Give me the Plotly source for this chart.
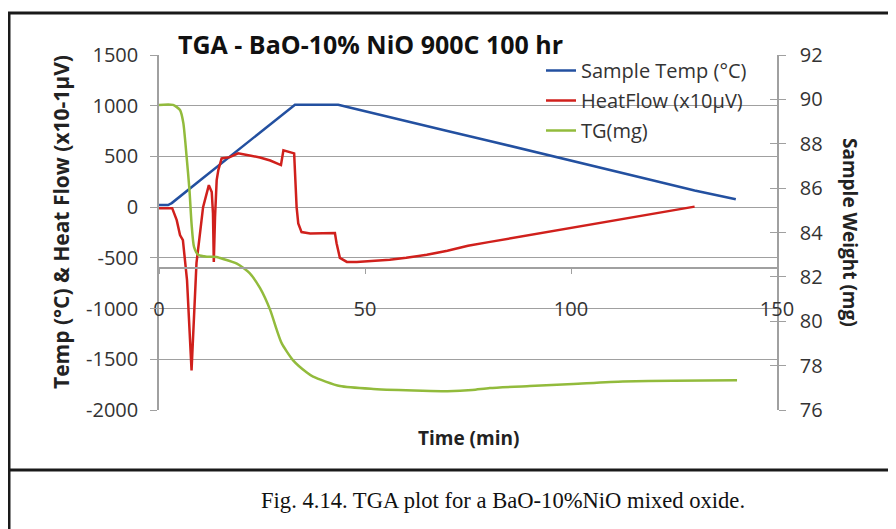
import plotly.graph_objects as go

# ---------------- data ----------------
temp_t = [0, 2.2, 3.1, 10, 33, 43.5, 46, 50, 60, 70, 80, 90, 100, 110, 120, 130, 135, 140]
temp_v = [20, 20, 40, 266, 1010, 1010, 985, 945, 848, 750, 655, 555, 458, 360, 262, 165, 118, 78]

heat_t = [0, 3.2, 4.3, 5.1, 5.8, 6.8, 7.9, 9.1, 9.8, 10.7, 12.1, 12.8, 13.1, 13.3, 13.6, 14.0,
          14.4, 15.2, 17.2, 19.2, 22, 24.5, 27, 29, 29.6, 30.2, 31.8, 32.8, 33.4, 33.8, 34.6,
          36.7, 42.7, 43.1, 43.9, 45.6, 48, 52, 56, 60, 65, 70, 75, 80, 85, 90, 95, 100, 105,
          110, 115, 120, 125, 130]
heat_v = [-10, -10, -128, -276, -325, -720, -1610, -550, -310, 0, 217, 150, -60, -540, -100, 266,
          365, 480, 493, 530, 510, 490, 460, 420, 415, 560, 545, 530, 0, -160, -246,
          -260, -256, -355, -500, -540, -540, -530, -518, -500, -470, -430, -380, -345, -310,
          -275, -240, -200, -165, -130, -95, -65, -30, 5]

tg_t = [0, 3.4, 5.1, 5.9, 6.7, 7.4, 7.9, 8.5, 9.5, 11.6, 14, 14.8, 18.9, 22, 24.5, 27, 28.6,
        29.8, 32.5, 35.8, 37.4, 43.9, 52, 64, 70, 76, 80.3, 90, 100.5, 112.6, 124.8, 140.3]
tg_v = [89.75, 89.75, 89.52, 88.94, 87.42, 85.9, 84.4, 83.35, 83.0, 82.91, 82.9, 82.85, 82.6,
        82.17, 81.5, 80.5, 79.6, 79.0, 78.25, 77.7, 77.5, 77.08, 76.95, 76.87, 76.85, 76.9,
        76.99, 77.08, 77.17, 77.28, 77.32, 77.34]

x_ticks = [0, 50, 100, 150]
left_ticks = [-2000, -1500, -1000, -500, 0, 500, 1000, 1500]
left_labels = ["-2000", "-1500", "-1000", "-500", "0", "500", "1000", "1500"]
right_ticks = [76, 78, 80, 82, 84, 86, 88, 90, 92]
left_range = [-2000, 1500]
right_range = [76, 92]

FONT = "Open Sans"
TXT = "#333333"
GRID = "#a0a0a0"

# page body has an 8px margin: shift the whole figure up/left by 8px
OFF = 8

fig = go.Figure()
fig.add_trace(go.Scatter(x=temp_t, y=temp_v, name="Sample Temp (°C)", mode="lines",
                         legendgroup="a", line=dict(color="#2350a0", width=2.5)))
fig.add_trace(go.Scatter(x=heat_t, y=heat_v, name="HeatFlow (x10µV)", mode="lines",
                         legendgroup="b", line=dict(color="#d0201c", width=2.5)))
fig.add_trace(go.Scatter(x=tg_t, y=tg_v, name="TG(mg)", mode="lines", yaxis="y2",
                         legendgroup="c",
                         line=dict(color="#92bb3c", width=2.5, shape="spline", smoothing=0.6)))
fig.add_trace(go.Scatter(x=[None], y=[None], yaxis="y3", showlegend=False, hoverinfo="skip"))

def px2x(px):
    return (px - 159) / 618.0

def px2y(py):
    return (410 - py) / 355.0

fig.update_layout(
    width=896 - OFF, height=529 - OFF,
    margin=dict(l=159 - OFF, r=119, t=55 - OFF, b=119),
    paper_bgcolor="white", plot_bgcolor="white",
    font=dict(family=FONT, size=20, color=TXT),
    showlegend=True,
    legend=dict(x=px2x(541), y=px2y(51), xanchor="left", yanchor="top",
                bgcolor="rgba(0,0,0,0)", font=dict(family=FONT, size=20, color=TXT),
                borderwidth=0, tracegroupgap=1),
    xaxis=dict(range=[0, 150], tickvals=x_ticks, anchor="free", position=(-600 + 2000) / 3500,
               showline=True, linecolor=GRID, linewidth=1.5, ticks="outside", ticklen=5,
               tickcolor=GRID, showgrid=False, zeroline=False, ticklabelstandoff=18,
               tickfont=dict(size=20, color=TXT)),
    yaxis=dict(range=left_range, tickvals=left_ticks, ticktext=left_labels,
               showgrid=True, gridcolor=GRID, gridwidth=1.4,
               showline=True, linecolor=GRID, linewidth=1.5, ticks="outside", ticklen=7,
               tickcolor=GRID, zeroline=False, ticklabelstandoff=8,
               tickfont=dict(size=20, color=TXT)),
    yaxis2=dict(range=right_range, tickvals=right_ticks, overlaying="y", side="right", anchor="x",
                showgrid=False, showline=True, linecolor=GRID, linewidth=1.5, ticks="outside",
                ticklen=7, tickcolor=GRID, zeroline=False, ticklabelstandoff=10,
                tickfont=dict(size=20, color=TXT)),
    yaxis3=dict(range=right_range, tickvals=right_ticks, overlaying="y", side="right", anchor="x",
                showgrid=False, showline=False, ticks="inside", ticklen=7, tickcolor=GRID,
                showticklabels=False, zeroline=False),
)

annotations = [
    dict(text="<b>TGA - BaO-10% NiO 900C 100 hr</b>", x=px2x(370), y=px2y(44),
         font=dict(family=FONT, size=25, color="#111111"), bgcolor="white", borderpad=4),
    dict(text="<b>Temp (°C) & Heat Flow (x10-1µV)</b>", x=px2x(61), y=px2y(222), textangle=-90,
         font=dict(family=FONT, size=21, color="#222222")),
    dict(text="<b>Sample Weight (mg)</b>", x=px2x(850), y=px2y(232), textangle=90,
         font=dict(family=FONT, size=19, color="#222222")),
    dict(text="<b>Time (min)</b>", x=px2x(468), y=px2y(438),
         font=dict(family=FONT, size=19, color="#222222")),
    dict(text="Fig. 4.14. TGA plot for a BaO-10%NiO mixed oxide.", x=px2x(503), y=px2y(500),
         font=dict(family="Liberation Serif", size=22.6, color="#111111")),
]
for a in annotations:
    a.update(xref="paper", yref="paper", showarrow=False, xanchor="center", yanchor="middle")
fig.update_layout(annotations=annotations)

fig.update_layout(shapes=[
    # white legend box (covers gridlines, below traces)
    dict(type="rect", xref="paper", yref="paper", x0=px2x(523), y0=px2y(58), x1=px2x(768),
         y1=px2y(143), line=dict(width=0), fillcolor="white", layer="between"),
    dict(type="rect", xref="paper", yref="paper", x0=px2x(9), y0=px2y(13), x1=px2x(905),
         y1=px2y(540), line=dict(color="#1a1a1a", width=3), layer="above"),
    dict(type="line", xref="paper", yref="paper", x0=px2x(9), y0=px2y(470), x1=px2x(905),
         y1=px2y(470), line=dict(color="#1a1a1a", width=3), layer="above"),
])

fig.write_html("out.html")
